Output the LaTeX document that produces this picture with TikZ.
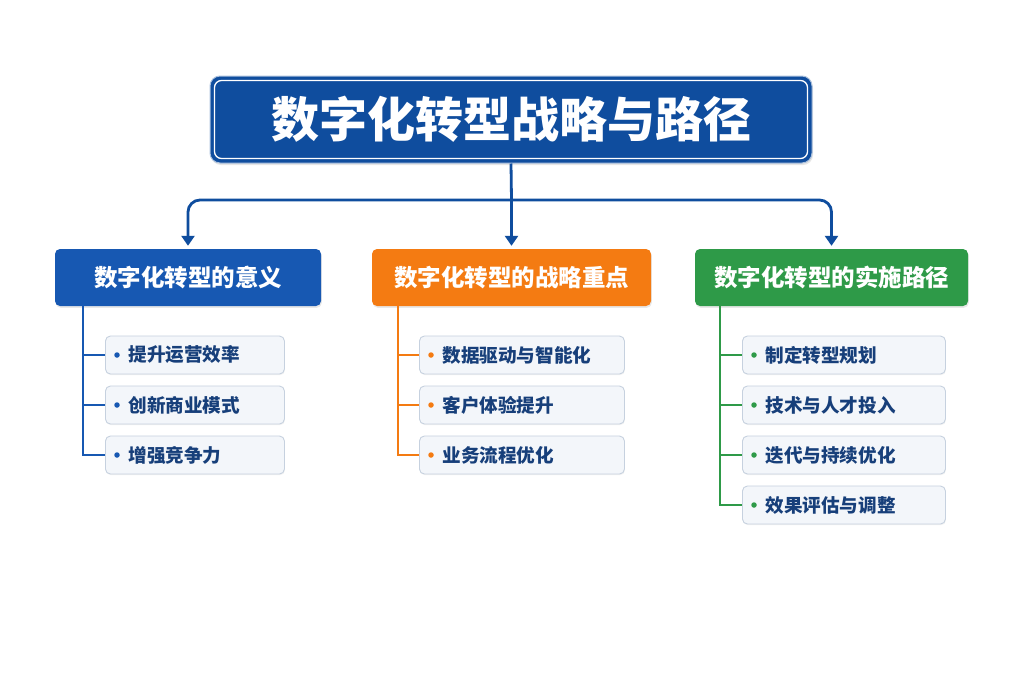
\documentclass[tikz,border=0pt]{standalone}
\usepackage{fontspec}
\setmainfont{Noto Sans CJK SC}
\newfontfamily\cjk{Noto Sans CJK SC}
\usetikzlibrary{arrows.meta,shadows,positioning}
\definecolor{titleblue}{HTML}{0F4D9E}
\definecolor{catblue}{HTML}{1758B2}
\definecolor{catorange}{HTML}{F47B12}
\definecolor{catgreen}{HTML}{2E9A48}
\definecolor{itemtext}{HTML}{173F7A}
\definecolor{itemfill}{HTML}{F3F6FA}
\definecolor{itemdraw}{HTML}{C6D1DF}
\begin{document}
\begin{tikzpicture}[x=1pt,y=-1pt,
  conn/.style={draw=titleblue, line width=2.8pt, rounded corners=12pt},
  tipped/.style={-{Triangle[width=13pt,length=10pt]}, shorten >=3pt},
  catbox/.style={rounded corners=5pt, minimum height=57pt, text=white,
     font=\cjk\bfseries\fontsize{23.5}{26}\selectfont, inner sep=0pt,
     drop shadow={opacity=0.18, shadow xshift=0.8pt, shadow yshift=-1.8pt}},
  itembox/.style={draw=itemdraw, line width=0.9pt, fill=itemfill, rounded corners=5pt,
     minimum height=38pt, anchor=west, align=left, inner xsep=23pt, inner ysep=0pt,
     text=itemtext, font=\cjk\bfseries\fontsize{18.6}{21}\selectfont,
     drop shadow={opacity=0.10, shadow xshift=0.5pt, shadow yshift=-1.2pt}},
  branch/.style={line width=2.4pt},
  dot/.style={circle, inner sep=0pt, minimum size=5.5pt}
]
\useasboundingbox (0,0) rectangle (1024,683);
\fill[white] (0,0) rectangle (1024,683);

% title
\node[fill=titleblue, draw=titleblue!35, line width=1pt, rounded corners=10pt,
      minimum width=602pt, minimum height=87pt, inner sep=0pt, text=white,
      font=\cjk\bfseries\fontsize{48}{54}\selectfont,
      drop shadow={opacity=0.2, shadow xshift=1pt, shadow yshift=-2pt}]
      (T) at (511,119.5) {数字化转型战略与路径};
\draw[white, line width=1.3pt, rounded corners=7pt]
  ([xshift=5pt,yshift=-5pt]T.north west) rectangle ([xshift=-5pt,yshift=5pt]T.south east);

% categories
\node[catbox, fill=catblue, minimum width=266pt] (C1) at (188,277.5) {数字化转型的意义};
\node[catbox, fill=catorange, minimum width=279pt] (C2) at (511.5,277.5) {数字化转型的战略重点};
\node[catbox, fill=catgreen, minimum width=273pt] (C3) at (831.5,277.5) {数字化转型的实施路径};

% connectors
\coordinate (J) at (511.5,200);
\draw[conn] (T.south) -- (J);
\draw[conn,tipped] (J) -| (C1.north);
\draw[conn,tipped] (J) -| (C3.north);
\draw[conn,tipped] (J) -- (C2.north);

% items blue
\node[itembox, minimum width=179pt, text width=133pt] (A1) at (105,355) {提升运营效率};
\node[itembox, minimum width=179pt, text width=133pt] (A2) at (105,405) {创新商业模式};
\node[itembox, minimum width=179pt, text width=133pt] (A3) at (105,455) {增强竞争力};
% items orange
\node[itembox, minimum width=205pt, text width=159pt] (B1) at (419,355) {数据驱动与智能化};
\node[itembox, minimum width=205pt, text width=159pt] (B2) at (419,405) {客户体验提升};
\node[itembox, minimum width=205pt, text width=159pt] (B3) at (419,455) {业务流程优化};
% items green
\node[itembox, minimum width=203pt, text width=157pt] (G1) at (742,355) {制定转型规划};
\node[itembox, minimum width=203pt, text width=157pt] (G2) at (742,405) {技术与人才投入};
\node[itembox, minimum width=203pt, text width=157pt] (G3) at (742,455) {迭代与持续优化};
\node[itembox, minimum width=203pt, text width=157pt] (G4) at (742,505) {效果评估与调整};

% branch lines
\draw[branch, catblue] ([xshift=28pt]C1.south west) |- (A3.west);
\draw[branch, catblue] (83,355) -- (A1.west);
\draw[branch, catblue] (83,405) -- (A2.west);
\draw[branch, catorange] ([xshift=26pt]C2.south west) |- (B3.west);
\draw[branch, catorange] (398,355) -- (B1.west);
\draw[branch, catorange] (398,405) -- (B2.west);
\draw[branch, catgreen] ([xshift=25pt]C3.south west) |- (G4.west);
\draw[branch, catgreen] (720,355) -- (G1.west);
\draw[branch, catgreen] (720,405) -- (G2.west);
\draw[branch, catgreen] (720,455) -- (G3.west);

% bullets
\foreach \n in {A1,A2,A3} \node[dot, fill=catblue] at ([xshift=12pt]\n.west) {};
\foreach \n in {B1,B2,B3} \node[dot, fill=catorange] at ([xshift=12pt]\n.west) {};
\foreach \n in {G1,G2,G3,G4} \node[dot, fill=catgreen] at ([xshift=12pt]\n.west) {};
\end{tikzpicture}
\end{document}
